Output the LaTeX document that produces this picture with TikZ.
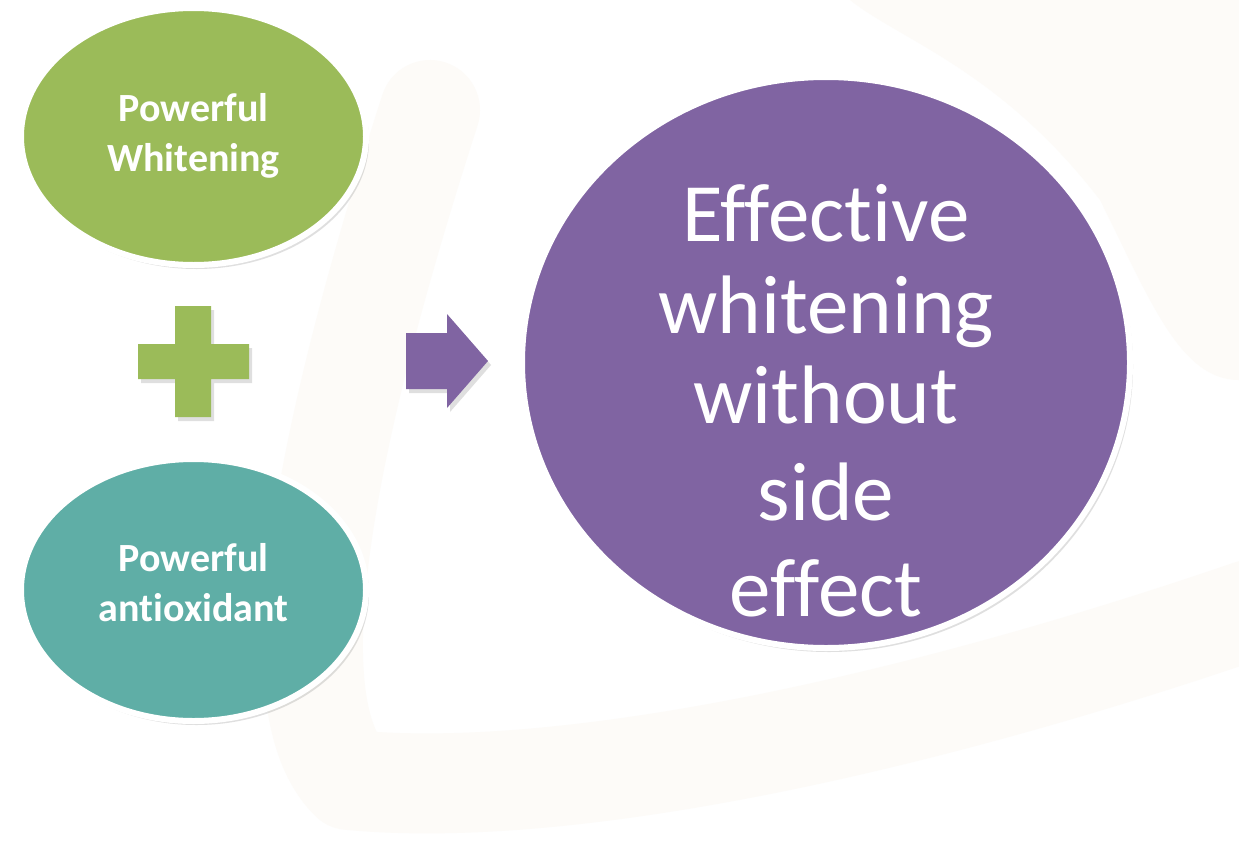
\documentclass[tikz,border=0pt]{standalone}
\usepackage{fontspec}
\setmainfont{Carlito}[RawFeature={-liga;-clig}]
\usetikzlibrary{shapes.geometric,shadows}
\definecolor{cgreen}{HTML}{9BBB59}
\definecolor{cteal}{HTML}{5FAEA6}
\definecolor{cpurple}{HTML}{8064A2}
\definecolor{wm}{HTML}{FDFBF8}
\begin{document}
\begin{tikzpicture}[x=1pt,y=-1pt,
  softshadow/.style={drop shadow={opacity=0.25,shadow xshift=3pt,shadow yshift=-4pt}},
  bubble/.style={ellipse,draw=white,line width=6pt,inner sep=0pt,text=white,
    align=center,softshadow},
  smalltext/.style={text=white,inner sep=0pt,align=center,font=\fontsize{40}{50}\selectfont\bfseries},
  bigline/.style={anchor=base,text=white,inner sep=0pt,font=\fontsize{83}{92}\selectfont},
  watermark/.style={draw=wm,line width=100pt,line cap=round,line join=round}
]
\useasboundingbox[fill=white] (0,0) rectangle (1239,854);

% faint background watermark
\fill[wm] (850,0) -- (1239,0) -- (1239,380) .. controls (1180,380) and (1150,300) .. (1100,200)
  .. controls (1000,70) and (900,40) .. (850,0) -- cycle;
\draw[watermark] (1250,610) .. controls (900,730) and (560,800) .. (350,780)
  .. controls (270,700) and (330,420) .. (430,110);

% inputs
\node[bubble,fill=cgreen,minimum width=345pt,minimum height=257pt]
  (pw) at (193.5,136.5) {};
\node[smalltext] (pwt) at (193.5,136) {Powerful\\Whitening};
\node[bubble,fill=cteal,minimum width=345pt,minimum height=262pt]
  (pa) at (193.5,590) {};
\node[smalltext] (pat) at (193.5,583) {Powerful\\antioxidant};

% plus sign
\fill[cgreen,softshadow] (175,306) -- (211,306) -- (211,344) -- (249,344) -- (249,379)
  -- (211,379) -- (211,417) -- (175,417) -- (175,379) -- (138,379) -- (138,344)
  -- (175,344) -- cycle;

% arrow
\fill[cpurple,softshadow] (406,333) -- (447,333) -- (447,314) -- (488,361) -- (447,408)
  -- (447,389) -- (406,389) -- cycle;

% result
\node[bubble,fill=cpurple,minimum width=608pt,minimum height=571pt] (res) at (826,362.5) {};
\node[bigline] (l1) at (826,241) {Effective};
\node[bigline] (l2) at (826,333) {whitening};
\node[bigline] (l3) at (826,423) {without};
\node[bigline] (l4) at (826,520) {side};
\node[bigline] (l5) at (826,616) {effect};
\end{tikzpicture}
\end{document}
